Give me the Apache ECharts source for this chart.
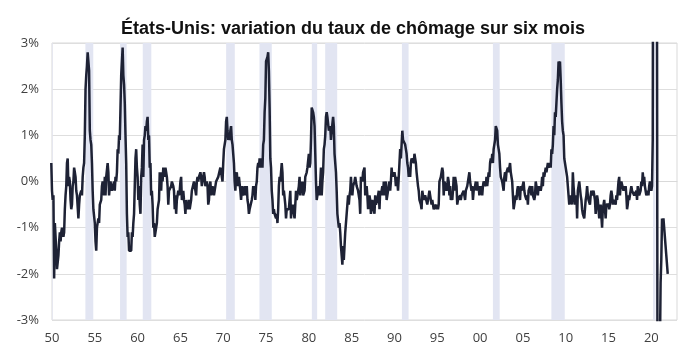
<!DOCTYPE html>
<html>
<head>
<meta charset="utf-8">
<script src="https://cdn.jsdelivr.net/npm/echarts@6/dist/echarts.min.js"></script>
<style>
  html, body { margin: 0; padding: 0; background: #fff; }
  #chart { width: 686px; height: 353px; }
</style>
</head>
<body>
<div id="chart"></div>
<script>
// six-month change in US unemployment rate (pp), monthly, one row per year
const dec1949 = 0.4;
const chg1950s = [
  -0.2,-0.4,-0.3,-2.1,-0.9,-1.2,-1.5,-1.9,-1.9,-1.6,-1.3,-1.1,
  -1.3,-1.1,-1.0,-1.1,-1.2,-1.1,-0.6,-0.3,-0.1, 0.4, 0.5,-0.1,
   0.1, 0.0,-0.4,-0.6,-0.5,-0.1, 0.0, 0.3, 0.2, 0.1,-0.2,-0.3,
  -0.3,-0.8,-0.5,-0.3,-0.3,-0.2,-0.3, 0.1, 0.3, 0.4, 1.0, 2.0,
   2.3, 2.5, 2.8, 2.8, 2.4, 1.1, 0.9, 0.8, 0.4,-0.2,-0.6,-0.6,
  -0.9,-1.3,-1.5,-1.0,-1.0,-0.8,-0.9,-0.5,-0.5,-0.4,-0.1, 0.0,
   0.0,-0.3, 0.1,-0.3, 0.1, 0.1, 0.4, 0.2,-0.3,-0.1, 0.0,-0.1,
  -0.2,-0.2,-0.2, 0.0,-0.2, 0.1, 0.0, 0.2, 0.7, 0.6, 1.0, 0.9,
   1.6, 2.3, 2.3, 2.9, 2.3, 2.1, 1.7, 1.0, 0.4,-0.7,-1.2,-1.1,
  -1.5,-1.5,-1.5,-1.5,-1.1,-1.2,-0.9,-0.7,-0.1, 0.5, 0.7, 0.3
];
const chg1960s = [
   0.1,-0.4,-0.1,-0.5,-0.7, 0.1, 0.3, 0.8, 0.1, 0.9, 1.0, 1.2,
   1.1, 1.3, 1.4, 0.9, 1.0, 0.3, 0.4,-0.3,-0.2,-0.5,-1.0,-0.9,
  -1.2,-1.1,-1.1,-0.9,-0.6,-0.5,-0.4, 0.2, 0.0,-0.2, 0.2, 0.0,
   0.3, 0.2, 0.1, 0.3, 0.2, 0.1,-0.1,-0.5,-0.2,-0.2,-0.2,-0.1,
   0.0, 0.0,-0.1,-0.2,-0.6,-0.3,-0.7,-0.4,-0.3,-0.2,-0.3,-0.2,
   0.0, 0.1,-0.4,-0.3,-0.2,-0.4,-0.5,-0.7,-0.4,-0.6,-0.5,-0.6,
  -0.4,-0.6,-0.5,-0.4,-0.2,-0.2,-0.2, 0.0,-0.1,-0.1,-0.3, 0.0,
   0.1, 0.0, 0.1, 0.1, 0.2, 0.1,-0.1, 0.0, 0.0, 0.2, 0.1,-0.1,
  -0.1, 0.0,-0.1,-0.5,-0.4,-0.1, 0.0,-0.3,-0.3,-0.1,-0.1,-0.3,
  -0.3,-0.1, 0.0, 0.0, 0.0, 0.1, 0.1, 0.1, 0.3, 0.3, 0.1, 0.0
];
const chg1970s = [
   0.4, 0.7, 0.7, 0.9, 1.3, 1.4, 1.1, 0.9, 1.0, 0.9, 1.1, 1.2,
   0.9, 0.8, 0.6, 0.4, 0.0,-0.2, 0.1, 0.2, 0.0,-0.1, 0.1, 0.1,
  -0.2,-0.4,-0.2,-0.1,-0.3,-0.3,-0.2,-0.1,-0.3,-0.1,-0.4,-0.5,
  -0.7,-0.6,-0.6,-0.6,-0.4,-0.3,-0.1,-0.2,-0.1,-0.4,-0.1, 0.0,
   0.3, 0.4, 0.3, 0.5, 0.3, 0.5, 0.4, 0.3, 0.8, 0.9, 1.5, 1.8,
   2.6, 2.6, 2.7, 2.8, 2.4, 1.6, 0.5, 0.3,-0.2,-0.4,-0.7,-0.6,
  -0.7,-0.7,-0.8,-0.7,-0.9,-0.6,-0.1, 0.1, 0.0, 0.0, 0.4, 0.2,
  -0.3,-0.2,-0.2,-0.5,-0.8,-0.6,-0.6,-0.6,-0.6,-0.4,-0.2,-0.8,
  -0.5,-0.7,-0.5,-0.7,-0.8,-0.5,-0.2,-0.4,-0.3,-0.3,-0.1, 0.1,
  -0.3, 0.0,-0.2, 0.0,-0.3,-0.3,-0.2, 0.1, 0.1, 0.2, 0.3, 0.3
];
const chg1980s = [
   0.6, 0.3, 0.4, 0.9, 1.6, 1.6, 1.5, 1.4, 1.2, 0.6, 0.0,-0.4,
  -0.3,-0.3,-0.1,-0.3, 0.0, 0.3,-0.3, 0.0, 0.2, 0.7, 0.8, 1.0,
   1.4, 1.5, 1.4, 1.4, 1.1, 1.1, 1.2, 0.9, 1.1, 1.1, 1.4, 1.2,
   0.6, 0.6, 0.2,-0.2,-0.7,-0.7,-1.0,-0.9,-1.1,-1.4,-1.6,-1.8,
  -1.4,-1.7,-1.4,-1.1,-1.1,-1.1,-0.5,-0.3,-0.5,-0.3,-0.2, 0.1,
  -0.2,-0.3,-0.1,-0.1, 0.0, 0.1, 0.1,-0.1,-0.1,-0.2,-0.2,-0.4,
  -0.7, 0.1, 0.1, 0.0, 0.2, 0.2, 0.3,-0.3,-0.2,-0.1,-0.3,-0.6,
  -0.4,-0.3,-0.4,-0.7,-0.6,-0.4,-0.5,-0.6,-0.7,-0.3,-0.5,-0.5,
  -0.4,-0.3,-0.2,-0.6,-0.2,-0.3,-0.3,-0.1,-0.3, 0.0,-0.3,-0.1,
   0.0,-0.4,-0.4,-0.2,-0.1, 0.0,-0.2, 0.0, 0.3, 0.1, 0.2, 0.1
];
const chg1990s = [
   0.2, 0.1,-0.1, 0.1, 0.0,-0.2, 0.1, 0.4, 0.7, 0.5, 0.8, 1.1,
   0.9, 0.9, 0.9, 0.8, 0.7, 0.6, 0.4, 0.3, 0.1, 0.3, 0.1, 0.4,
   0.5, 0.5, 0.5, 0.4, 0.6, 0.5, 0.4, 0.2, 0.2,-0.1,-0.2,-0.4,
  -0.4,-0.5,-0.6,-0.2,-0.3,-0.4,-0.4,-0.3,-0.3,-0.3,-0.5,-0.5,
  -0.3,-0.2,-0.2,-0.4,-0.5,-0.4,-0.5,-0.6,-0.6,-0.6,-0.5,-0.6,
  -0.5,-0.6,-0.5, 0.0, 0.0, 0.1, 0.1, 0.3, 0.2,-0.3, 0.0, 0.0,
  -0.1,-0.2,-0.1, 0.1, 0.0,-0.3,-0.1,-0.4,-0.3,-0.4,-0.2, 0.1,
  -0.2, 0.1, 0.0,-0.1,-0.5,-0.4,-0.4,-0.4,-0.3,-0.4,-0.3,-0.3,
  -0.3,-0.2,-0.2,-0.4,-0.2,-0.2,-0.1,-0.1,-0.1, 0.2, 0.0,-0.1,
  -0.2,-0.1,-0.4,-0.2,-0.2,-0.1, 0.0,-0.2, 0.0,-0.2,-0.1,-0.3
];
const chg2000s = [
  -0.3,-0.1,-0.2,-0.3,-0.1, 0.0, 0.0, 0.0,-0.1, 0.1,-0.1,-0.1,
   0.2, 0.1, 0.4, 0.5, 0.4, 0.6, 0.4, 0.7, 0.7, 0.9, 1.2, 1.2,
   1.1, 0.8, 0.7, 0.6, 0.3, 0.1, 0.1, 0.0, 0.0,-0.2, 0.1, 0.2,
   0.0, 0.2, 0.2, 0.3, 0.2, 0.3, 0.4, 0.2, 0.2, 0.0,-0.3,-0.6,
  -0.5,-0.5,-0.3,-0.4,-0.2,-0.1,-0.2,-0.2,-0.4,-0.1,-0.2,-0.2,
  -0.2, 0.0,-0.2,-0.3,-0.3,-0.4,-0.3,-0.5,-0.2,-0.2,-0.1,-0.1,
  -0.3,-0.1,-0.3,-0.3,-0.4,-0.3, 0.0,-0.1,-0.2,-0.3,-0.1,-0.2,
  -0.1,-0.2,-0.1, 0.1,-0.1, 0.2, 0.1, 0.1, 0.3, 0.2, 0.3, 0.4,
   0.3, 0.3, 0.4, 0.3, 0.7, 0.6, 0.8, 1.2, 1.0, 1.5, 1.4, 1.7,
   2.0, 2.2, 2.6, 2.5, 2.6, 2.2, 1.7, 1.3, 1.1, 1.0, 0.5, 0.4
];
const chg2010s = [
   0.3, 0.2, 0.1,-0.1,-0.3,-0.5,-0.4,-0.3,-0.4,-0.5, 0.2,-0.1,
  -0.3,-0.5,-0.5,-0.3,-0.8,-0.2,-0.1, 0.0, 0.0,-0.3,-0.4,-0.6,
  -0.7,-0.7,-0.8,-0.6,-0.4,-0.3,-0.1,-0.3,-0.4,-0.4,-0.5,-0.3,
  -0.2,-0.3,-0.3,-0.2,-0.2,-0.4,-0.7,-0.5,-0.3,-0.4,-0.6,-0.8,
  -0.7,-0.5,-0.5,-1.0,-0.6,-0.6,-0.4,-0.6,-0.8,-0.5,-0.5,-0.5,
  -0.5,-0.6,-0.5,-0.3,-0.2,-0.3,-0.5,-0.4,-0.4,-0.4,-0.5,-0.3,
  -0.4,-0.2, 0.0, 0.1,-0.3,-0.1, 0.0, 0.0, 0.0,-0.2,-0.1,-0.2,
  -0.1,-0.3,-0.6,-0.5,-0.3,-0.4,-0.4,-0.2,-0.1,-0.2,-0.2,-0.2,
  -0.3,-0.3,-0.3,-0.2,-0.4,-0.1,-0.2,-0.3,-0.3,-0.2, 0.0,-0.1,
   0.2, 0.0, 0.1,-0.1,-0.2,-0.3,-0.3,-0.2,-0.3,-0.1, 0.0, 0.0
];
const chg2020s = [
  -0.2,-0.1, 0.9,11.1, 9.6, 7.4, 6.7, 4.9, 3.4,-7.8,-6.5,-4.3,
  -3.8,-2.2,-1.7,-0.8,-0.9,-0.8,-1.0,-1.0,-1.4,-1.6,-1.6,-2.0
];

// shaded recession periods as they sit on the picture's time scale
const recessions = [
  [1949.5, 1950.07], [1953.9, 1954.82], [1957.95, 1958.72], [1960.6, 1961.6],
  [1970.34, 1971.35], [1974.23, 1975.67], [1980.35, 1980.97], [1981.91, 1983.31],
  [1990.87, 1991.65], [2001.5, 2002.29], [2008.33, 2009.89], [2020.2, 2020.5]
];

const yTicks = [-3, -2, -1, 0, 1, 2, 3];

const points = [[1949 + 11 / 12, dec1949]];
[[1950, chg1950s], [1960, chg1960s], [1970, chg1970s], [1980, chg1980s],
 [1990, chg1990s], [2000, chg2000s], [2010, chg2010s], [2020, chg2020s]]
  .forEach(([start, arr]) => {
    arr.forEach((v, i) => points.push([start + i / 12, v]));
  });

const labelFont = { color: '#404040', fontSize: 13, fontFamily: 'Open Sans' };

const chart = echarts.init(document.getElementById('chart'));
chart.setOption({
  animation: false,
  title: {
    text: 'États-Unis: variation du taux de chômage sur six mois',
    left: 116,
    top: 15,
    textStyle: { fontFamily: 'Liberation Sans', fontWeight: 'bold', fontSize: 18, color: '#111' }
  },
  grid: {
    left: 52, right: 9, top: 43, bottom: 33,
    show: true, borderColor: '#d9d9d9', borderWidth: 1, backgroundColor: 'transparent'
  },
  xAxis: {
    type: 'value',
    min: 1950, max: 2023, interval: 5,
    axisLine: { show: true, lineStyle: { color: '#d9d9d9' } },
    axisTick: { show: false },
    splitLine: { show: false },
    axisLabel: Object.assign({
      margin: 12,
      formatter: v => (v % 5 === 0 ? String(v % 100).padStart(2, '0') : '')
    }, labelFont)
  },
  yAxis: {
    type: 'value',
    min: yTicks[0], max: yTicks[yTicks.length - 1], interval: 1,
    axisLine: { show: false },
    axisTick: { show: false },
    splitLine: { lineStyle: { color: '#dedede' } },
    axisLabel: Object.assign({ margin: 13, formatter: '{value}%' }, labelFont)
  },
  series: [
    {
      type: 'custom',
      z: 1,
      silent: true,
      data: recessions,
      encode: { x: [0, 1] },
      renderItem: (params, api) => {
        const a = api.coord([api.value(0), yTicks[yTicks.length - 1]]);
        const b = api.coord([api.value(1), yTicks[0]]);
        const rect = echarts.graphic.clipRectByRect(
          { x: a[0], y: a[1], width: b[0] - a[0], height: b[1] - a[1] },
          params.coordSys
        );
        return rect && { type: 'rect', shape: rect, style: { fill: '#e2e5f2' } };
      }
    },
    {
      type: 'line',
      z: 3,
      data: points,
      showSymbol: false,
      clip: true,
      lineStyle: { color: '#1e2235', width: 2.5 }
    }
  ]
});
</script>
</body>
</html>
